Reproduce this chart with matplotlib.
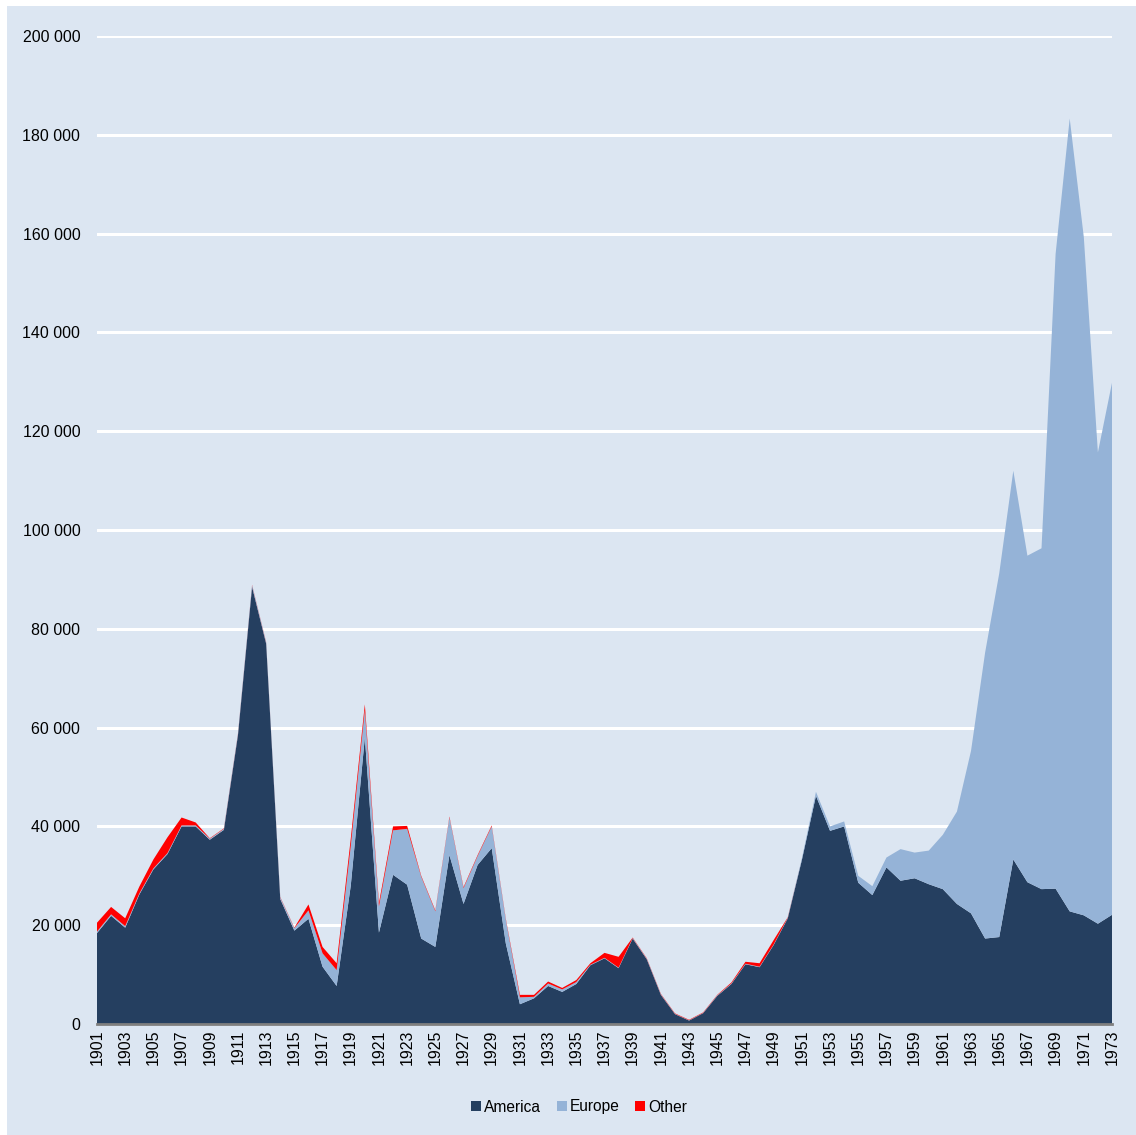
import numpy as np
import matplotlib.pyplot as plt
from matplotlib.ticker import FuncFormatter
from matplotlib.patches import Rectangle

plt.rcParams['font.family'] = ['Liberation Sans', 'DejaVu Sans']

years = np.arange(1901, 1974)

# values in thousands
america = [18.4, 21.9, 19.5, 26.2, 31.3, 34.4, 40.0, 40.0, 37.3, 39.3,
           58.5, 88.5, 77.0, 25.3, 18.9, 21.3, 11.6, 7.7, 28.0, 58.0,
           18.5, 30.2, 28.2, 17.3, 15.6, 34.2, 24.3, 32.2, 35.6, 16.3,
           4.0, 5.2, 7.7, 6.5, 8.1, 11.9, 13.3, 11.3, 17.3, 13.1,
           5.9, 2.0, 0.7, 2.2, 5.7, 8.1, 12.1, 11.5, 16.0, 21.4,
           33.2, 46.2, 39.1, 40.0, 28.6, 26.1, 31.7, 29.0, 29.5, 28.3,
           27.3, 24.3, 22.4, 17.3, 17.6, 33.3, 28.7, 27.3, 27.4, 22.8,
           22.0, 20.3, 22.1]
europe = [0.3, 0.3, 0.3, 0.2, 0.2, 0.2, 0.2, 0.2, 0.2, 0.2,
          0.2, 0.3, 0.2, 0.3, 0.5, 1.7, 2.7, 3.2, 8.0, 5.5,
          5.3, 9.0, 11.3, 12.5, 7.2, 7.6, 3.2, 1.8, 4.4, 4.8,
          1.4, 0.3, 0.5, 0.5, 0.4, 0.1, 0.1, 0.1, 0.1, 0.1,
          0.1, 0.05, 0.05, 0.05, 0.1, 0.1, 0.1, 0.1, 0.1, 0.1,
          0.3, 0.8, 0.9, 1.0, 1.4, 1.8, 2.0, 6.4, 5.2, 6.8,
          11.0, 18.7, 32.9, 57.9, 73.6, 78.7, 66.1, 69.0, 128.5, 160.5,
          137.3, 95.4, 107.7]
other = [1.8, 1.5, 1.6, 1.4, 1.8, 3.2, 1.6, 0.6, 0.1, 0.1,
         0.1, 0.1, 0.1, 0.1, 0.1, 1.2, 1.3, 1.4, 1.5, 1.2,
         0.7, 0.8, 0.6, 0.2, 0.2, 0.2, 0.2, 0.2, 0.2, 0.2,
         0.5, 0.4, 0.4, 0.3, 0.4, 0.3, 1.0, 2.2, 0.1, 0.1,
         0.1, 0.1, 0.1, 0.1, 0.1, 0.2, 0.4, 0.7, 0.9, 0.1,
         0, 0, 0, 0, 0, 0, 0, 0, 0, 0,
         0, 0, 0, 0, 0, 0, 0, 0, 0, 0,
         0, 0, 0]

america = np.array(america) * 1000
europe = np.array(europe) * 1000
other = np.array(other) * 1000

bg = '#DCE6F2'
c_am, c_eu, c_ot = '#253F60', '#95B3D7', '#FF0000'

fig = plt.figure(figsize=(11.36, 11.35), dpi=100, facecolor='white')
fig.patches.append(Rectangle((7 / 1136, 0), 1 - 7 / 1136, 1 - 6 / 1135,
                             transform=fig.transFigure, facecolor=bg,
                             edgecolor='none', zorder=-10))
ax = fig.add_axes([97 / 1136, 1 - 1024 / 1135, 1015 / 1136, 988 / 1135])
ax.set_zorder(1)
ax.set_facecolor(bg)

ax.stackplot(years, america, europe, other, colors=[c_am, c_eu, c_ot],
             labels=['America', 'Europe', 'Other'], linewidth=0, zorder=3)

ax.set_xlim(1901, 1973)
ax.set_ylim(0, 200000)
ax.set_yticks(np.arange(0, 200001, 20000))
ax.yaxis.set_major_formatter(FuncFormatter(lambda v, p: f'{int(v):,}'.replace(',', ' ')))
ax.set_xticks(years[::2])
ax.set_xticklabels([str(y) for y in years[::2]], rotation=90)
ax.tick_params(axis='both', length=0, labelsize=11.5, colors='black')
ax.tick_params(axis='y', pad=12)
ax.tick_params(axis='x', pad=4)

ax.grid(axis='y', color='white', linewidth=2.2, zorder=1)
ax.set_axisbelow(True)
for s in ['top', 'right', 'left']:
    ax.spines[s].set_visible(False)
ax.spines['bottom'].set_color('#7F7F7F')
ax.spines['bottom'].set_linewidth(2)
ax.spines['bottom'].set_zorder(4)

leg = fig.legend(loc='center', bbox_to_anchor=(0.5 + 11 / 1136, 1 - 1107 / 1135), ncol=3,
                 frameon=False, fontsize=11.2, handlelength=0.65, handleheight=0.65,
                 handletextpad=0.2, columnspacing=1.0)

fig.savefig('out.png', dpi=100, facecolor='white')
